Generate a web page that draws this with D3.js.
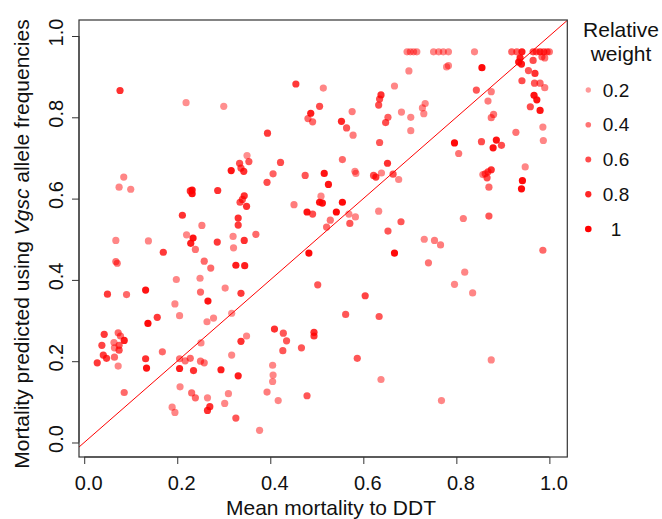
<!DOCTYPE html>
<html>
<head>
<meta charset="utf-8">
<script src="https://cdn.jsdelivr.net/npm/d3@7"></script>
<style>
  html, body { margin: 0; padding: 0; background: #fff; }
  svg { display: block; font-family: "Liberation Sans", Arial, Helvetica, sans-serif; }
</style>
</head>
<body>
<svg id="chart" width="662" height="519"></svg>
<script>
// ---- Data ----
const mortality = [
  0.077,0.219,0.300,0.350,0.354,0.334,0.316,0.337,0.343,0.085,0.075,0.100,0.232,0.228,0.232,0.287,0.344,0.335,0.340,0.349,
  0.211,0.253,0.331,0.331,0.220,0.234,0.320,0.068,0.138,0.229,0.239,0.286,0.321,0.344,0.170,0.068,0.071,0.258,0.272,0.326,
  0.345,0.198,0.249,0.050,0.091,0.132,0.250,0.303,0.266,0.337,0.195,0.205,0.157,0.137,0.264,0.278,0.317,0.349,0.043,0.073,
  0.078,0.038,0.064,0.065,0.086,0.075,0.075,0.041,0.048,0.028,0.065,0.073,0.168,0.132,0.134,0.251,0.205,0.217,0.228,0.250,
  0.258,0.205,0.235,0.294,0.331,0.317,0.086,0.206,0.231,0.239,0.265,0.310,0.302,0.189,0.195,0.270,0.265,0.326,0.377,0.417,
  0.393,0.479,0.768,0.638,0.405,0.406,0.405,0.337,0.409,0.428,0.435,0.427,0.467,0.494,0.494,0.562,0.634,0.587,0.875,
  0.698,0.455,0.514,0.638,0.635,0.633,0.667,0.506,0.487,0.481,0.491,0.576,0.553,0.564,0.578,0.682,0.653,0.648,0.702,0.702,
  0.394,0.635,0.422,0.555,0.652,0.406,0.475,0.516,0.582,0.584,0.622,0.627,0.639,0.664,0.676,0.393,0.525,0.509,0.506,0.512,
  0.555,0.451,0.479,0.491,0.542,0.569,0.583,0.633,0.529,0.521,0.571,0.681,0.653,0.369,0.483,0.667,0.502,0.604,
  0.694,0.701,0.708,0.715,0.751,0.762,0.772,0.783,0.839,0.919,0.930,0.941,0.965,0.972,0.980,0.988,0.995,1.000,
  0.783,0.779,0.855,0.937,0.934,0.940,0.965,0.984,0.990,0.955,0.969,0.941,0.968,0.980,0.990,0.843,0.875,0.868,0.967,0.973,
  0.959,0.980,0.733,0.727,0.730,0.880,0.875,0.928,0.986,0.987,0.796,0.854,0.886,0.897,0.879,0.805,0.948,0.875,0.868,0.862,
  0.857,0.866,0.870,0.942,0.940,0.815,0.870,0.731,0.753,0.766,0.740,0.818,0.796,0.835,0.986
];
const predicted = [
  0.866,0.836,0.827,0.706,0.691,0.687,0.669,0.675,0.667,0.653,0.628,0.623,0.621,0.619,0.612,0.620,0.607,0.591,0.598,0.581,
  0.559,0.534,0.552,0.535,0.511,0.503,0.507,0.497,0.496,0.490,0.475,0.493,0.479,0.497,0.468,0.445,0.441,0.446,0.429,0.436,
  0.435,0.401,0.404,0.365,0.364,0.375,0.370,0.380,0.348,0.367,0.341,0.312,0.308,0.293,0.297,0.306,0.318,0.262,0.266,0.270,
  0.262,0.239,0.246,0.233,0.251,0.239,0.227,0.215,0.207,0.196,0.210,0.188,0.223,0.206,0.183,0.245,0.206,0.201,0.207,0.200,
  0.196,0.182,0.177,0.179,0.164,0.215,0.123,0.137,0.122,0.110,0.110,0.120,0.096,0.087,0.074,0.088,0.079,0.060,0.030,0.103,
  0.124,0.115,0.103,0.155,0.190,0.166,0.150,0.249,0.279,0.269,0.250,0.226,0.233,0.271,0.262,0.315,0.310,0.207,0.203,
  0.914,0.882,0.872,0.855,0.845,0.830,0.877,0.827,0.810,0.797,0.789,0.814,0.790,0.774,0.756,0.813,0.800,0.787,0.800,0.767,
  0.761,0.738,0.689,0.696,0.687,0.661,0.657,0.662,0.667,0.662,0.657,0.653,0.663,0.660,0.647,0.640,0.635,0.606,0.591,0.589,
  0.591,0.585,0.567,0.562,0.567,0.562,0.555,0.569,0.547,0.530,0.539,0.543,0.520,0.512,0.466,0.466,0.388,0.361,
  0.961,0.961,0.961,0.961,0.961,0.961,0.961,0.961,0.961,0.961,0.961,0.961,0.961,0.961,0.961,0.961,0.961,0.961,
  0.927,0.924,0.922,0.946,0.936,0.931,0.940,0.949,0.946,0.915,0.908,0.890,0.884,0.884,0.873,0.867,0.863,0.840,0.854,0.843,
  0.826,0.817,0.834,0.823,0.809,0.807,0.799,0.763,0.776,0.743,0.737,0.740,0.744,0.731,0.725,0.711,0.678,0.671,0.666,0.661,
  0.659,0.651,0.628,0.644,0.624,0.551,0.557,0.500,0.497,0.486,0.442,0.419,0.389,0.368,0.473
];
const weight = [
  0.75,0.25,0.25,0.25,0.55,0.6,0.9,0.6,0.75,0.3,0.3,0.3,0.9,0.75,0.9,0.75,0.75,0.6,0.6,0.75,
  0.75,0.35,0.75,0.7,0.3,0.9,0.3,0.3,0.3,0.85,0.4,0.7,0.3,0.75,0.7,0.4,0.4,0.45,0.45,0.85,
  0.85,0.3,0.3,0.7,0.45,0.9,0.45,0.3,0.9,0.7,0.3,0.3,0.7,0.95,0.3,0.3,0.25,0.3,0.7,0.45,
  0.45,0.65,0.35,0.35,0.85,0.55,0.6,0.7,0.7,0.7,0.45,0.3,0.45,0.75,0.9,0.3,0.4,0.4,0.45,0.4,
  0.4,0.85,0.75,0.85,0.85,0.3,0.45,0.3,0.45,0.45,0.3,0.3,0.3,0.3,0.3,0.75,0.75,0.55,0.3,0.3,
  0.35,0.55,0.3,0.3,0.3,0.3,0.3,0.75,0.75,0.55,0.55,0.55,0.55,0.75,0.7,0.55,0.55,0.55,0.3,
  0.3,0.7,0.3,0.75,0.6,0.6,0.3,0.6,0.85,0.45,0.45,0.35,0.8,0.55,0.35,0.3,0.5,0.6,0.3,0.3,
  0.7,0.55,0.6,0.45,0.75,0.5,0.55,0.9,0.3,0.3,0.6,0.7,0.3,0.6,0.3,0.6,0.9,0.3,0.9,0.9,
  0.95,0.35,0.9,0.6,0.95,0.3,0.3,0.3,0.4,0.45,0.55,0.55,0.55,0.45,0.95,0.95,0.55,0.65,
  0.3,0.3,0.3,0.3,0.3,0.3,0.3,0.3,0.3,0.5,0.5,0.85,0.6,0.5,0.7,0.6,0.5,0.4,
  0.3,0.3,0.95,0.85,0.9,0.85,0.6,0.45,0.4,0.55,0.75,0.6,0.55,0.45,0.35,0.55,0.35,0.35,0.9,0.9,
  0.6,0.9,0.3,0.3,0.3,0.4,0.4,0.4,0.3,0.3,0.95,0.6,0.9,0.6,0.9,0.4,0.3,0.75,0.6,0.5,
  0.35,0.6,0.45,0.95,0.95,0.35,0.55,0.3,0.35,0.35,0.4,0.3,0.3,0.3,0.45
];
const xTicks = [0, 0.2, 0.4, 0.6, 0.8, 1.0];
const yTicks = [0, 0.2, 0.4, 0.6, 0.8, 1.0];
const legendWeights = [0.2, 0.4, 0.6, 0.8, 1];
const legendLabels = ["0.2", "0.4", "0.6", "0.8", "1"];

// ---- Layout ----
const svg = d3.select("#chart");
const box = { left: 79, right: 567.3, top: 20, bottom: 457 };
const x = d3.scaleLinear().domain([-0.0112, 1.0385]).range([box.left, box.right]);
const y = d3.scaleLinear().domain([-0.0357, 1.0394]).range([box.bottom, box.top]);
const alpha = d3.scaleLinear().domain([0, 1]).range([0.25, 1]);

svg.append("defs").append("clipPath").attr("id", "clip")
  .append("rect").attr("x", box.left).attr("y", box.top)
  .attr("width", box.right - box.left).attr("height", box.bottom - box.top);

const pts = mortality.map((m, i) => ({ m, p: predicted[i], w: weight[i] }));

svg.append("g").attr("clip-path", "url(#clip)")
  .selectAll("circle").data(pts).join("circle")
  .attr("cx", d => x(d.m)).attr("cy", d => y(d.p))
  .attr("r", 3.6)
  .attr("fill", "#ff0000")
  .attr("fill-opacity", d => alpha(d.w));

// y = x reference line
const dom = x.domain();
svg.append("line").attr("clip-path", "url(#clip)")
  .attr("x1", x(dom[0])).attr("y1", y(dom[0]))
  .attr("x2", x(dom[1])).attr("y2", y(dom[1]))
  .attr("stroke", "#ff0000").attr("stroke-width", 1);

// box
svg.append("rect").attr("x", box.left).attr("y", box.top)
  .attr("width", box.right - box.left).attr("height", box.bottom - box.top)
  .attr("fill", "none").attr("stroke", "#333").attr("stroke-width", 1.2);

// x axis
const fmt = d3.format(".1f");
const gx = svg.append("g").attr("transform", `translate(0,${box.bottom})`)
  .call(d3.axisBottom(x).tickValues(xTicks).tickFormat(fmt).tickSize(7).tickPadding(11.5));
gx.select(".domain").attr("stroke", "#333").attr("d", `M${x(0)},0H${x(1)}`);
gx.selectAll(".tick line").attr("stroke", "#333");
gx.selectAll("text").attr("font-size", 20).attr("fill", "#111")
  .attr("x", 4)
  .attr("font-family", "Liberation Sans, Arial, sans-serif");

// y axis
const gy = svg.append("g").attr("transform", `translate(${box.left},0)`)
  .call(d3.axisLeft(y).tickValues(yTicks).tickFormat(fmt).tickSize(7));
gy.select(".domain").attr("stroke", "#333").attr("d", `M0,${y(0)}V${y(1)}`);
gy.selectAll(".tick line").attr("stroke", "#333");
gy.selectAll("text")
  .attr("x", null).attr("dy", null)
  .attr("transform", "translate(-16,-4) rotate(-90)")
  .attr("text-anchor", "middle")
  .attr("font-size", 20).attr("fill", "#111")
  .attr("font-family", "Liberation Sans, Arial, sans-serif");

// axis titles
svg.append("text")
  .attr("x", 331).attr("y", 515)
  .attr("text-anchor", "middle").attr("font-size", 21).attr("fill", "#111")
  .text("Mean mortality to DDT");

const yl = svg.append("text")
  .attr("transform", `translate(29,244) rotate(-90)`)
  .attr("text-anchor", "middle").attr("font-size", 21).attr("fill", "#111");
yl.append("tspan").text("Mortality predicted using ");
yl.append("tspan").attr("font-style", "italic").text("Vgsc");
yl.append("tspan").text(" allele frequencies");

// legend
const lg = svg.append("g");
lg.append("text").attr("x", 621).attr("y", 37).attr("text-anchor", "middle")
  .attr("font-size", 21).attr("fill", "#111").text("Relative");
lg.append("text").attr("x", 621).attr("y", 61).attr("text-anchor", "middle")
  .attr("font-size", 21).attr("fill", "#111").text("weight");
const ly = d3.scalePoint().domain(legendLabels).range([90, 229]);
legendWeights.forEach((w, i) => {
  const cy = ly(legendLabels[i]);
  lg.append("circle").attr("cx", 588.3).attr("cy", cy).attr("r", 2.5 + 0.8 * w)
    .attr("fill", "#ff0000").attr("fill-opacity", alpha(w));
  lg.append("text").attr("x", 616).attr("y", cy + 6.5).attr("text-anchor", "middle")
    .attr("font-size", 19).attr("fill", "#111").text(legendLabels[i]);
});
</script>
</body>
</html>
